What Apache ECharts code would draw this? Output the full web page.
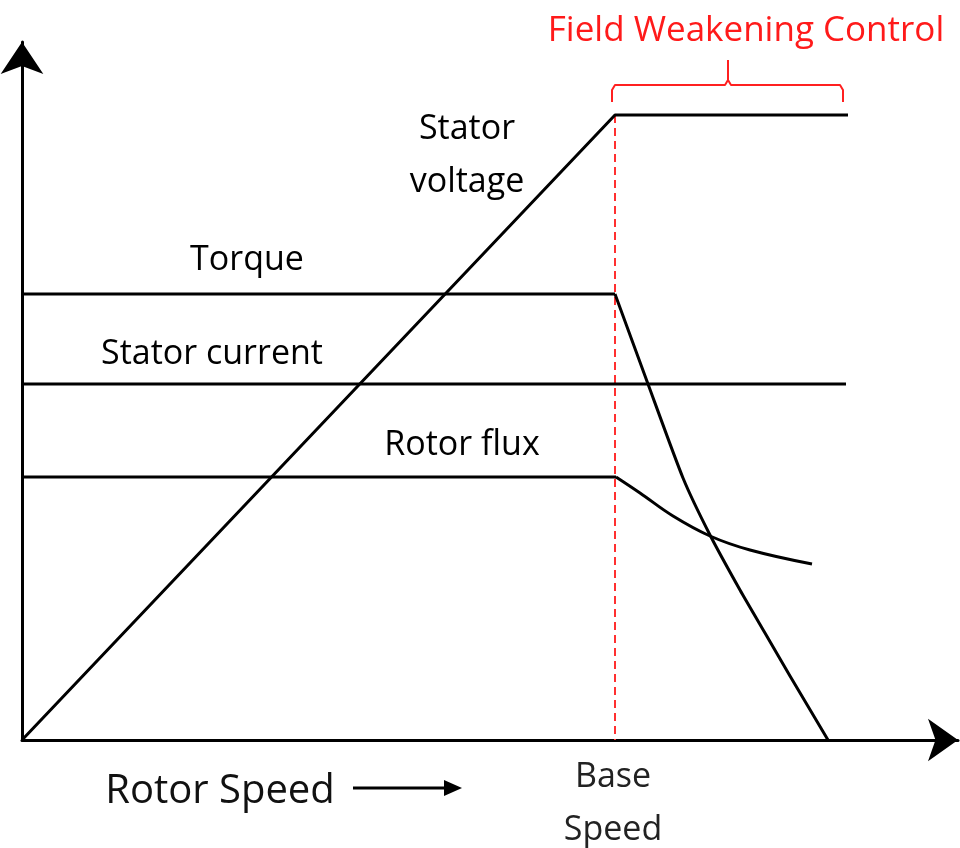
<!DOCTYPE html>
<html><head><meta charset="utf-8">
<script src="https://cdn.jsdelivr.net/npm/echarts@6/dist/echarts.min.js"></script>
<style>html,body{margin:0;padding:0;background:#fff}#c{width:960px;height:848px}</style>
</head><body><div id="c"></div>
<script>
// data coordinates (arbitrary units: x = rotor speed, y = magnitude)
const statorVoltage = [[0,0],[593,625],[826,625]];
const torqueConst = [[0,446],[593,446]];
const torqueFall = [[593,446],[626,356],[661,262],[688,205],[718,150],[743,107],[768,64],[806,0]];
const statorCurrent = [[0,356],[824,356]];
const rotorFluxConst = [[0,263],[594,263]];
const rotorFluxFall = [[594,263],[618,247],[651,224],[688,204],[728,190],[790,176]];
const baseSpeedLine = [[593,625],[593,0]];
const bracket = [[590,638],[590,650],[593,655],[703,655],[706,660],[706,680],[706,660],[709,655],[818,655],[821,650],[821,638]];

const FONT = '"Open Sans"';
const chart = echarts.init(document.getElementById('c'));
const blackLine = (data, smooth) => ({type:'line', data, smooth: smooth||false, symbol:'none', lineStyle:{color:'#000', width:3, join:'round'}, z:3});
const txt = (text, x, y, size, fill) => ({type:'text', style:{text, x, y, fill: fill||'#000', font: size+'px '+FONT, align:'center', verticalAlign:'middle'}});
chart.setOption({
  animation:false,
  grid:{left:22, right:2, top:42, bottom:108},
  xAxis:{type:'value', min:0, max:936, axisLine:{show:true, lineStyle:{color:'#000', width:3}, symbol:['none','arrow'], symbolSize:[32,30], onZero:false},
         axisTick:{show:false}, axisLabel:{show:false}, splitLine:{show:false}},
  yAxis:{type:'value', min:0, max:698, axisLine:{show:true, lineStyle:{color:'#000', width:3}, symbol:['none','arrow'], symbolSize:[32,32], onZero:false},
         axisTick:{show:false}, axisLabel:{show:false}, splitLine:{show:false}},
  series:[
    {type:'line', data:baseSpeedLine, symbol:'none', lineStyle:{color:'#ff3030', width:2, type:[8,5]}, z:2},
    blackLine(statorVoltage),
    blackLine(torqueConst),
    blackLine(torqueFall, 0.2),
    blackLine(statorCurrent),
    blackLine(rotorFluxConst),
    blackLine(rotorFluxFall, 0.4),
    {type:'line', data:bracket, symbol:'none', lineStyle:{color:'#ff2020', width:2}, z:2}
  ],
  graphic:[
    txt('Field Weakening Control', 746, 31, 35, '#ff1a1a'),
    txt('Stator', 467, 129, 34),
    txt('voltage', 467, 182, 34),
    txt('Torque', 247, 260, 34),
    txt('Stator current', 212, 354, 34),
    txt('Rotor flux', 462, 445, 34),
    txt('Base', 613, 777, 34, '#222'),
    txt('Speed', 613, 830, 34, '#222'),
    txt('Rotor Speed', 220, 792, 40, '#111'),
    {type:'line', shape:{x1:353, y1:788, x2:448, y2:788}, style:{stroke:'#000', lineWidth:3}},
    {type:'polygon', shape:{points:[[444,780],[462,788],[444,796]]}, style:{fill:'#000'}}
  ]
});
</script></body></html>
